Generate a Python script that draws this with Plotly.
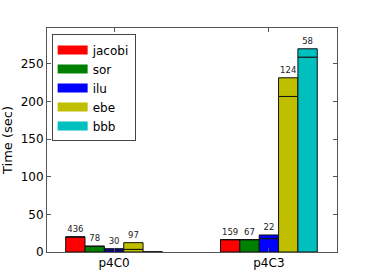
import plotly.graph_objects as go

categories = ["p4C0", "p4C3"]
methods = ["jacobi", "sor", "ilu", "ebe", "bbb"]
colors = ["#ff0000", "#008000", "#0000ff", "#bfbf00", "#00bfbf"]

# lower segment of each stacked bar (sec)
base_jacobi = [20.0, 16.4]
base_sor = [7.6, 16.4]
base_ilu = [2.6, 17.7]
base_ebe = [3.5, 206.6]
base_bbb = [0.0, 258.8]

# upper segment of each stacked bar (sec)
top_jacobi = [0.0, 0.0]
top_sor = [0.0, 0.0]
top_ilu = [1.8, 4.9]
top_ebe = [8.9, 24.8]
top_bbb = [0.0, 11.1]

# annotation labels above bars
lab_jacobi = ["436", "159"]
lab_sor = ["78", "67"]
lab_ilu = ["30", "22"]
lab_ebe = ["97", "124"]
lab_bbb = ["", "58"]

bases = [base_jacobi, base_sor, base_ilu, base_ebe, base_bbb]
tops = [top_jacobi, top_sor, top_ilu, top_ebe, top_bbb]
labels = [lab_jacobi, lab_sor, lab_ilu, lab_ebe, lab_bbb]

fig = go.Figure()
for m, c, b, t, lab in zip(methods, colors, bases, tops, labels):
    fig.add_trace(go.Bar(
        x=categories, y=b, name=m, offsetgroup=m, legendgroup=m,
        showlegend=False,
        marker=dict(color=c, line=dict(color="#111", width=1)),
    ))
    fig.add_trace(go.Bar(
        x=categories, y=t, base=b, name=m, offsetgroup=m, legendgroup=m,
        showlegend=False,
        marker=dict(color=c, line=dict(color="#111", width=1)),
        text=lab, textposition="outside", cliponaxis=False,
        textfont=dict(size=8.5, color="#222", family="DejaVu Sans"),
    ))
    # legend-only entry drawn as a wide patch
    fig.add_trace(go.Scatter(
        x=[None], y=[None], mode="lines", name=m, legendgroup=m,
        line=dict(color=c, width=9), showlegend=True,
    ))

fig.update_layout(
    width=374, height=280,
    margin=dict(l=47, r=37, t=28, b=28, pad=0),
    barmode="group", bargap=0.375, bargroupgap=0,
    plot_bgcolor="white", paper_bgcolor="white",
    font=dict(family="DejaVu Sans", size=12, color="black"),
    showlegend=True,
    legend=dict(x=0.016, y=0.971, xanchor="left", yanchor="top",
                bordercolor="#444", borderwidth=1, bgcolor="white",
                font=dict(size=12), tracegroupgap=0, itemwidth=30),
    uniformtext=dict(mode=False),
)
fig.update_xaxes(
    type="category", range=[-0.433, 1.44], automargin=False,
    showline=True, linecolor="#555", linewidth=1, mirror="ticks",
    ticks="inside", ticklen=4, tickcolor="#555",
    tickfont=dict(size=12), showgrid=False,
)
fig.update_yaxes(
    range=[0, 297.5], tickvals=[0, 50, 100, 150, 200, 250], automargin=False,
    showline=True, linecolor="#555", linewidth=1, mirror="ticks",
    ticks="inside", ticklen=4, tickcolor="#555",
    tickfont=dict(size=12), showgrid=False, zeroline=False,
    title=dict(text="Time (sec)", font=dict(size=13), standoff=5),
)

fig.write_html("out.html", config={"displayModeBar": False},
               post_script="document.body.style.margin='0px';document.body.style.padding='0px';")
